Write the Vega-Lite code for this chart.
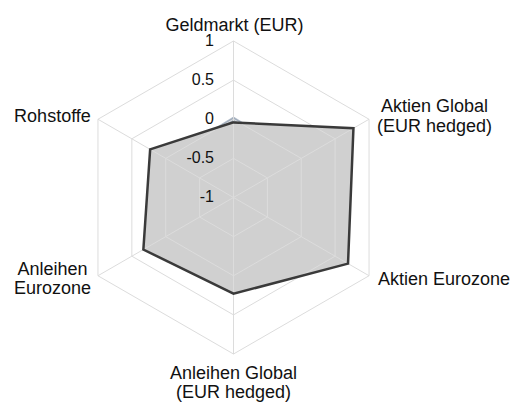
{
  "$schema": "https://vega.github.io/schema/vega-lite/v6.json",
  "width": 512,
  "height": 404,
  "autosize": {"type": "fit", "contains": "padding"},
  "padding": 0,
  "background": "white",
  "config": {"view": {"stroke": null}, "text": {"font": "Liberation Sans", "color": "#111111"}},
  "datasets": {
    "series": [
      {"series": "B", "axis": "Geldmarkt (EUR)", "i": 0, "value": 0.03},
      {"series": "B", "axis": "Aktien Global (EUR hedged)", "i": 1, "value": 0.0},
      {"series": "B", "axis": "Aktien Eurozone", "i": 2, "value": 0.0},
      {"series": "B", "axis": "Anleihen Global (EUR hedged)", "i": 3, "value": 0.0},
      {"series": "B", "axis": "Anleihen Eurozone", "i": 4, "value": 0.0},
      {"series": "B", "axis": "Rohstoffe", "i": 5, "value": 0.0},
      {"series": "A", "axis": "Geldmarkt (EUR)", "i": 0, "value": -0.04},
      {"series": "A", "axis": "Aktien Global (EUR hedged)", "i": 1, "value": 0.77},
      {"series": "A", "axis": "Aktien Eurozone", "i": 2, "value": 0.69},
      {"series": "A", "axis": "Anleihen Global (EUR hedged)", "i": 3, "value": 0.23},
      {"series": "A", "axis": "Anleihen Eurozone", "i": 4, "value": 0.33},
      {"series": "A", "axis": "Rohstoffe", "i": 5, "value": 0.23}
    ],
    "axes": [
      {"i": 0, "label": "Geldmarkt (EUR)"},
      {"i": 1, "label": "Aktien Global\n(EUR hedged)"},
      {"i": 2, "label": "Aktien Eurozone"},
      {"i": 3, "label": "Anleihen Global\n(EUR hedged)"},
      {"i": 4, "label": "Anleihen\nEurozone"},
      {"i": 5, "label": "Rohstoffe"}
    ],
    "grid": [
      {"level": -0.5, "i": [0, 1, 2, 3, 4, 5]},
      {"level": 0, "i": [0, 1, 2, 3, 4, 5]},
      {"level": 0.5, "i": [0, 1, 2, 3, 4, 5]},
      {"level": 1, "i": [0, 1, 2, 3, 4, 5]}
    ],
    "ticks": [
      {"t": "1", "level": 1},
      {"t": "0.5", "level": 0.5},
      {"t": "0", "level": 0},
      {"t": "-0.5", "level": -0.5},
      {"t": "-1", "level": -1}
    ]
  },
  "encoding": {
    "x": {"field": "x", "type": "quantitative", "scale": {"domain": [-1.49201, 1.77955], "nice": false, "zero": false}, "axis": null},
    "y": {"field": "y", "type": "quantitative", "scale": {"domain": [-1.31949, 1.26198], "nice": false, "zero": false}, "axis": null}
  },
  "layer": [
    {
      "data": {"name": "series"},
      "transform": [
        {"filter": "datum.series === 'B'"},
        {"calculate": "(datum.value + 1) / 2", "as": "r"},
        {"calculate": "PI / 2 - datum.i * PI / 3", "as": "th"},
        {"calculate": "datum.r * cos(datum.th)", "as": "x"},
        {"calculate": "datum.r * sin(datum.th)", "as": "y"}
      ],
      "mark": {"type": "line", "interpolate": "linear-closed", "fill": "#a2aebd", "stroke": "#95a3b5", "strokeWidth": 0.5},
      "encoding": {"order": {"field": "i", "type": "quantitative"}}
    },
    {
      "data": {"name": "series"},
      "transform": [
        {"filter": "datum.series === 'A'"},
        {"calculate": "(datum.value + 1) / 2", "as": "r"},
        {"calculate": "PI / 2 - datum.i * PI / 3", "as": "th"},
        {"calculate": "datum.r * cos(datum.th)", "as": "x"},
        {"calculate": "datum.r * sin(datum.th)", "as": "y"}
      ],
      "mark": {"type": "line", "interpolate": "linear-closed", "fill": "#d0d0d0", "strokeWidth": 0},
      "encoding": {"order": {"field": "i", "type": "quantitative"}}
    },
    {
      "data": {"name": "grid"},
      "transform": [
        {"flatten": ["i"]},
        {"calculate": "(datum.level + 1) / 2", "as": "r"},
        {"calculate": "PI / 2 - datum.i * PI / 3", "as": "th"},
        {"calculate": "datum.r * cos(datum.th)", "as": "x"},
        {"calculate": "datum.r * sin(datum.th)", "as": "y"}
      ],
      "mark": {"type": "line", "interpolate": "linear-closed", "stroke": "#dcdcdc", "strokeWidth": 1},
      "encoding": {"order": {"field": "i", "type": "quantitative"}, "detail": {"field": "level", "type": "nominal"}}
    },
    {
      "data": {"name": "axes"},
      "transform": [
        {"calculate": "PI / 2 - datum.i * PI / 3", "as": "th"},
        {"calculate": "cos(datum.th)", "as": "x"},
        {"calculate": "sin(datum.th)", "as": "y"}
      ],
      "mark": {"type": "rule", "stroke": "#dcdcdc", "strokeWidth": 1},
      "encoding": {"x2": {"datum": 0}, "y2": {"datum": 0}}
    },
    {
      "data": {"name": "series"},
      "transform": [
        {"filter": "datum.series === 'A'"},
        {"calculate": "(datum.value + 1) / 2", "as": "r"},
        {"calculate": "PI / 2 - datum.i * PI / 3", "as": "th"},
        {"calculate": "datum.r * cos(datum.th)", "as": "x"},
        {"calculate": "datum.r * sin(datum.th)", "as": "y"}
      ],
      "mark": {"type": "line", "interpolate": "linear-closed", "stroke": "#3a3a3a", "strokeWidth": 2.5},
      "encoding": {"order": {"field": "i", "type": "quantitative"}}
    },
    {
      "data": {"name": "ticks"},
      "transform": [
        {"calculate": "0", "as": "x"},
        {"calculate": "(datum.level + 1) / 2", "as": "y"}
      ],
      "mark": {"type": "text", "align": "right", "baseline": "middle", "dx": -19.5, "fontSize": 16},
      "encoding": {"text": {"field": "t", "type": "nominal"}}
    },
    {
      "data": {"name": "axes"},
      "transform": [
        {"filter": "datum.i === 0"},
        {"calculate": "PI / 2 - datum.i * PI / 3", "as": "th"},
        {"calculate": "cos(datum.th)", "as": "x"},
        {"calculate": "sin(datum.th)", "as": "y"}
      ],
      "mark": {"type": "text", "align": "center", "baseline": "alphabetic", "dx": 1, "dy": -10.3, "fontSize": 18, "lineBreak": "\n", "lineHeight": 19.5},
      "encoding": {"text": {"field": "label", "type": "nominal"}}
    },
    {
      "data": {"name": "axes"},
      "transform": [
        {"filter": "datum.i === 1"},
        {"calculate": "PI / 2 - datum.i * PI / 3", "as": "th"},
        {"calculate": "cos(datum.th)", "as": "x"},
        {"calculate": "sin(datum.th)", "as": "y"}
      ],
      "mark": {"type": "text", "align": "center", "baseline": "alphabetic", "dx": 65.5, "dy": -7, "fontSize": 18, "lineBreak": "\n", "lineHeight": 19.5},
      "encoding": {"text": {"field": "label", "type": "nominal"}}
    },
    {
      "data": {"name": "axes"},
      "transform": [
        {"filter": "datum.i === 2"},
        {"calculate": "PI / 2 - datum.i * PI / 3", "as": "th"},
        {"calculate": "cos(datum.th)", "as": "x"},
        {"calculate": "sin(datum.th)", "as": "y"}
      ],
      "mark": {"type": "text", "align": "center", "baseline": "alphabetic", "dx": 75, "dy": 9.3, "fontSize": 18, "lineBreak": "\n", "lineHeight": 19.5},
      "encoding": {"text": {"field": "label", "type": "nominal"}}
    },
    {
      "data": {"name": "axes"},
      "transform": [
        {"filter": "datum.i === 3"},
        {"calculate": "PI / 2 - datum.i * PI / 3", "as": "th"},
        {"calculate": "cos(datum.th)", "as": "x"},
        {"calculate": "sin(datum.th)", "as": "y"}
      ],
      "mark": {"type": "text", "align": "center", "baseline": "alphabetic", "dx": 0, "dy": 25, "fontSize": 18, "lineBreak": "\n", "lineHeight": 19.5},
      "encoding": {"text": {"field": "label", "type": "nominal"}}
    },
    {
      "data": {"name": "axes"},
      "transform": [
        {"filter": "datum.i === 4"},
        {"calculate": "PI / 2 - datum.i * PI / 3", "as": "th"},
        {"calculate": "cos(datum.th)", "as": "x"},
        {"calculate": "sin(datum.th)", "as": "y"}
      ],
      "mark": {"type": "text", "align": "center", "baseline": "alphabetic", "dx": -45.5, "dy": -0.75, "fontSize": 18, "lineBreak": "\n", "lineHeight": 19.5},
      "encoding": {"text": {"field": "label", "type": "nominal"}}
    },
    {
      "data": {"name": "axes"},
      "transform": [
        {"filter": "datum.i === 5"},
        {"calculate": "PI / 2 - datum.i * PI / 3", "as": "th"},
        {"calculate": "cos(datum.th)", "as": "x"},
        {"calculate": "sin(datum.th)", "as": "y"}
      ],
      "mark": {"type": "text", "align": "center", "baseline": "alphabetic", "dx": -45.5, "dy": 2.5, "fontSize": 18, "lineBreak": "\n", "lineHeight": 19.5},
      "encoding": {"text": {"field": "label", "type": "nominal"}}
    }
  ]
}
